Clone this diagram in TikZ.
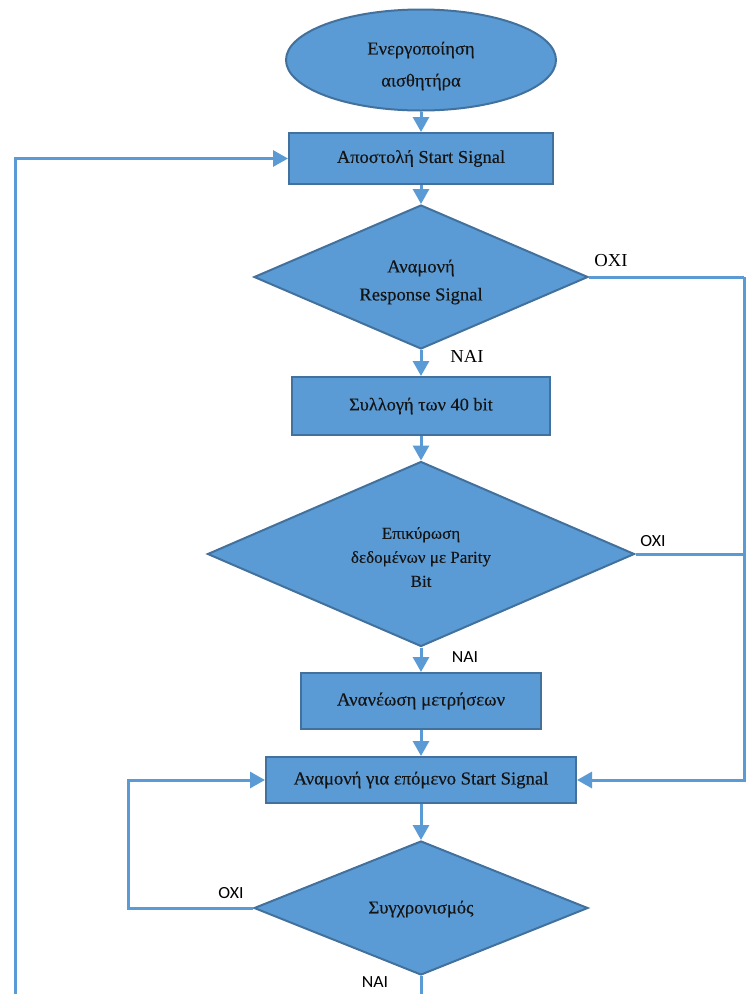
\documentclass[tikz,border=0pt]{standalone}
\usepackage{fontspec}
\usetikzlibrary{shapes.geometric,arrows.meta}
\newfontfamily\wserif[FakeStretch=1.02,FakeBold=0.3]{Liberation Serif}
\newfontfamily\lserif[FakeStretch=1.02]{Liberation Serif}
\newfontfamily\wsans[FakeStretch=1.05]{Carlito}
\definecolor{boxfill}{HTML}{5B9BD5}
\definecolor{boxline}{HTML}{41719C}
\definecolor{wire}{HTML}{5B9BD5}
\definecolor{ink}{HTML}{141414}
\tikzset{
  block/.style={draw=boxline, fill=boxfill, line width=2pt, rectangle,
    inner sep=0pt, align=center, text=ink},
  terminal/.style={block, ellipse},
  decision/.style={block, diamond},
  caption/.style={inner sep=0pt, align=center, text=ink},
  wireline/.style={draw=wire, line width=3pt},
  flow/.style={wireline, -{Triangle[length=15pt,width=16pt]}},
  serlabel/.style={inner sep=0pt, font={\lserif\fontsize{18.3}{20}\selectfont}},
  sanslabel/.style={inner sep=0pt, font={\wsans\fontsize{17}{20}\selectfont}},
}
\begin{document}
\begin{tikzpicture}[x=1pt, y=-1pt]
  \clip (0,0) rectangle (747,994);
  \fill[white] (0,0) rectangle (747,994);

  % process steps (shapes)
  \node[terminal, minimum width=270pt, minimum height=101pt] (start) at (421,60) {};
  \node[block, minimum width=264pt, minimum height=51pt,
        font={\wserif\fontsize{18.1}{20}\selectfont}]
    (send) at (421,158.5) {Αποστολή Start Signal};
  \node[decision, minimum width=334pt, minimum height=144pt, aspect=2.32] (resp) at (421,277) {};
  \node[block, minimum width=258pt, minimum height=58pt,
        font={\wserif\fontsize{18}{20}\selectfont}]
    (coll) at (421,406) {Συλλογή των 40 bit};
  \node[decision, minimum width=427pt, minimum height=185pt, aspect=2.31] (parity) at (421,554) {};
  \node[block, minimum width=240pt, minimum height=56pt,
        font={\wserif\fontsize{18.5}{20}\selectfont}]
    (upd) at (421,701) {Ανανέωση μετρήσεων};
  \node[block, minimum width=310pt, minimum height=46pt,
        font={\wserif\fontsize{18.3}{20}\selectfont}]
    (wait) at (421,780) {Αναμονή για επόμενο Start Signal};
  \node[decision, minimum width=334pt, minimum height=134pt, aspect=2.49] (sync) at (421,908) {};

  % texts of the rounded and diamond shapes
  \node[caption, font={\wserif\fontsize{18.2}{32}\selectfont}]
    (startT) at (421,66) {Ενεργοποίηση\\αισθητήρα};
  \node[caption, font={\wserif\fontsize{18.2}{28}\selectfont}]
    (respT) at (421,282) {Αναμονή\\Response Signal};
  \node[caption, font={\wserif\fontsize{16.7}{24}\selectfont}]
    (parityT) at (421,557) {Επικύρωση\\δεδομένων με Parity\\Bit};
  \node[caption, font={\wserif\fontsize{18.2}{20}\selectfont}]
    (syncT) at (421,909) {Συγχρονισμός};

  % main flow
  \draw[flow] (start) -- (send);
  \draw[flow] (send) -- (resp);
  \draw[flow] (resp) -- (coll);
  \draw[flow] (coll) -- (parity);
  \draw[flow] (parity) -- (upd);
  \draw[flow] (upd) -- (wait);
  \draw[flow] (wait) -- (sync);

  % failed checks return to the waiting step
  \coordinate (rtop) at (744,277);
  \draw[wireline] (resp.east) -- (rtop);
  \draw[flow] (rtop) |- (wait.east);
  \draw[wireline] (parity.east) -- (parity.east -| rtop);

  % no synchronisation: keep waiting
  \coordinate (lsync) at (128,908);
  \draw[flow] (sync.west) -- (lsync) |- (wait.west);

  % synchronised: send a new start signal
  \coordinate (lbot) at (15,1010);
  \draw[flow] (sync.south) |- (lbot) |- (send.west);

  % branch labels
  \node[serlabel] (no1) at (611,261) {OXI};
  \node[serlabel] (yes1) at (467,356) {NAI};
  \node[sanslabel] (no2) at (653,541) {OXI};
  \node[sanslabel] (yes2) at (465,657) {NAI};
  \node[sanslabel] (no3) at (231,893) {OXI};
  \node[sanslabel] (yes3) at (375,982) {NAI};
\end{tikzpicture}
\end{document}
